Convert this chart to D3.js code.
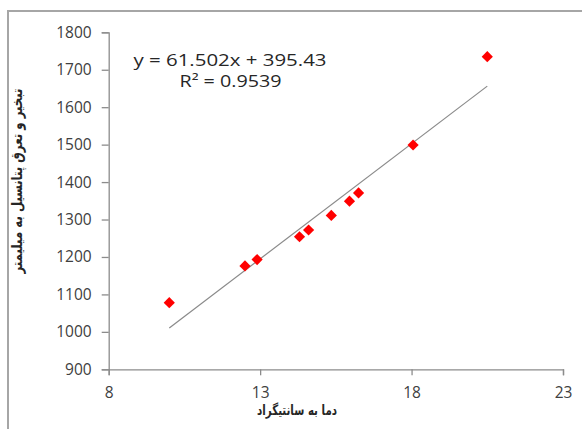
<!DOCTYPE html>
<html><head><meta charset="utf-8">
<script src="https://cdn.jsdelivr.net/npm/d3@7"></script>
<style>body{margin:0;background:#fff}svg{display:block}</style>
</head><body>
<script>
const temperature = [10.0, 12.5, 12.9, 14.3, 14.6, 15.35, 15.95, 16.25, 18.05, 20.5];
const evapotranspiration = [1078, 1176, 1193, 1254, 1272, 1311, 1349, 1371, 1499, 1735];
const trendSlope = [61.502];
const trendIntercept = [395.43];
const xTicks = [8, 13, 18, 23];
const yTicks = [900, 1000, 1100, 1200, 1300, 1400, 1500, 1600, 1700, 1800];
const equationText = ["y = 61.502x + 395.43", "R² = 0.9539"];
const xTitle = "دما به سانتیگراد";
const yTitle = "تبخیر و تعرق پتانسیل به میلیمتر";

const W = 582, H = 429;
const svg = d3.select("body").append("svg").attr("width", W).attr("height", H);

// outer frame (top and left edges visible)
svg.append("path").attr("d", "M8,429 V11 H582").attr("fill", "none")
  .attr("stroke", "#a6a6a6").attr("stroke-width", 2);

const x = d3.scaleLinear().domain([8, 23]).range([108.7, 563]);
const y = d3.scaleLinear().domain([900, 1800]).range([369.3, 32.3]);

const axisColor = "#8c8c8c";
const labelFont = "'Open Sans', sans-serif";

const gx = svg.append("g").attr("transform", `translate(0,${y(900)})`)
  .call(d3.axisBottom(x).tickValues(xTicks).tickSizeOuter(0).tickSize(6).tickFormat(d3.format("d")));
const gy = svg.append("g").attr("transform", `translate(${x(8)},0)`)
  .call(d3.axisLeft(y).tickValues(yTicks).tickSizeOuter(0).tickSize(7).tickPadding(10).tickFormat(d3.format("d")));

[gx, gy].forEach(g => {
  g.select(".domain").attr("stroke", axisColor).attr("stroke-width", 1.3);
  g.selectAll(".tick line").attr("stroke", axisColor).attr("stroke-width", 1.3);
  g.selectAll("text").attr("fill", "#404040").style("font-family", labelFont).style("font-size", "15.5px");
});
gx.selectAll("text").attr("y", 18).attr("dy", "0.71em");

// trend line
const xMin = d3.min(temperature), xMax = d3.max(temperature);
const line = d3.line().x(d => x(d)).y(d => y(trendSlope[0] * d + trendIntercept[0]));
svg.append("path").datum([xMin, xMax]).attr("d", line)
  .attr("stroke", "#8a8a8a").attr("stroke-width", 1.2).attr("fill", "none");

// points
const diamond = d3.symbol().type(d3.symbolDiamond2).size(80);
svg.append("g").selectAll("path").data(temperature.map((t, i) => [t, evapotranspiration[i]]))
  .join("path")
  .attr("transform", d => `translate(${x(d[0])},${y(d[1])})`)
  .attr("d", diamond).attr("fill", "#ff0000");

// equation
svg.append("text").attr("x", 230).attr("y", 66).attr("text-anchor", "middle")
  .style("font-family", labelFont).style("font-size", "16px").attr("fill", "#262626")
  .attr("textLength", 193).attr("lengthAdjust", "spacingAndGlyphs")
  .text(equationText[0]);
svg.append("text").attr("x", 230.5).attr("y", 87).attr("text-anchor", "middle")
  .style("font-family", labelFont).style("font-size", "16px").attr("fill", "#262626")
  .attr("textLength", 102).attr("lengthAdjust", "spacingAndGlyphs")
  .text(equationText[1]);

// axis titles
svg.append("text").attr("x", 297).attr("y", 415).attr("text-anchor", "middle")
  .attr("direction", "rtl")
  .style("font-family", "'DejaVu Sans', sans-serif").style("font-size", "14px").style("font-weight", "bold")
  .attr("fill", "#262626")
  .attr("textLength", 80).attr("lengthAdjust", "spacingAndGlyphs")
  .text(xTitle);
svg.append("text").attr("transform", "translate(22,181) rotate(-90)").attr("text-anchor", "middle")
  .attr("direction", "rtl")
  .style("font-family", "'DejaVu Sans', sans-serif").style("font-size", "15px").style("font-weight", "bold")
  .attr("fill", "#262626")
  .attr("textLength", 185).attr("lengthAdjust", "spacingAndGlyphs")
  .text(yTitle);
</script>
</body></html>
